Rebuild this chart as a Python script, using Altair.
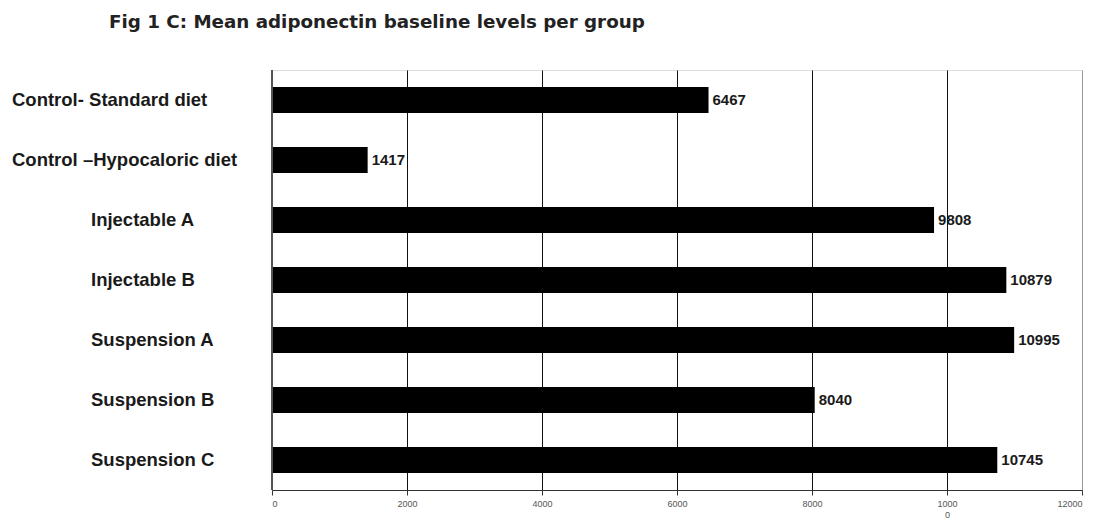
import altair as alt
import pandas as pd

title_text = ["Fig 1 C: Mean adiponectin baseline levels per group"]
groups = ["Control- Standard diet", "Control \u2013Hypocaloric diet", "Injectable A",
          "Injectable B", "Suspension A", "Suspension B", "Suspension C"]
values = [6467, 1417, 9808, 10879, 10995, 8040, 10745]
x_ticks = [0, 2000, 4000, 6000, 8000, 10000, 12000]

df = pd.DataFrame({"group": groups, "value": values})

y = alt.Y("group:N", sort=groups, axis=None,
          scale=alt.Scale(paddingInner=0.57, paddingOuter=0.285))

base = alt.Chart(df)

bars = base.mark_bar(color="black").encode(
    x=alt.X("value:Q", scale=alt.Scale(domain=[0, 12000], nice=False),
            axis=alt.Axis(values=x_ticks, title=None, grid=True,
                          gridColor={"condition": {"test": "datum.value == 0 || datum.value == 12000", "value": "#999999"}, "value": "#111111"},
                          gridWidth=1,
                          labelFont="Liberation Sans", labelFontSize=9, labelColor="#555555",
                          labelExpr="datum.value == 10000 ? ['1000', '0'] : datum.label",
                          labelLineHeight=11,
                          labelPadding=4,
                          tickColor="#333333", tickSize=5, domainColor="#333333",
                          format="d")),
    y=y,
)

value_text = base.mark_text(align="left", baseline="middle", dx=4,
                            font="Liberation Sans", fontWeight="bold", fontSize=15, color="#1a1a1a").encode(
    x="value:Q", y=y, text=alt.Text("value:Q", format="d"))

label_style = dict(align="left", baseline="middle", font="Liberation Sans",
                   fontWeight="bold", fontSize=18.5, color="#1a1a1a")
ctrl_text = base.transform_filter("indexof(datum.group, 'Control') == 0").mark_text(**label_style).encode(
    x=alt.value(-260), y=y, text="group:N")
other_text = base.transform_filter("indexof(datum.group, 'Control') != 0").mark_text(**label_style).encode(
    x=alt.value(-181), y=y, text="group:N")

left_line = alt.Chart(df).mark_rule(color="#555555").encode(
    x=alt.value(0), y=alt.value(0), y2=alt.value(420))

title_mark = alt.Chart(pd.DataFrame({"t": title_text})).mark_text(
    align="left", baseline="middle", font="DejaVu Sans", fontWeight="bold",
    fontSize=18.3, color="#222222").encode(
    x=alt.value(-163), y=alt.value(-47), text="t:N")

chart = alt.layer(bars, value_text, ctrl_text, other_text, left_line, title_mark).properties(
    width=810, height=420,
    padding={"left": 272, "top": 70, "right": 11, "bottom": 31},
    autosize=alt.AutoSizeParams(type="none"),
).configure_view(stroke="#999999", strokeWidth=1).configure(background="white")

chart.save("out.html", embed_options={"renderer": "svg", "actions": False})
